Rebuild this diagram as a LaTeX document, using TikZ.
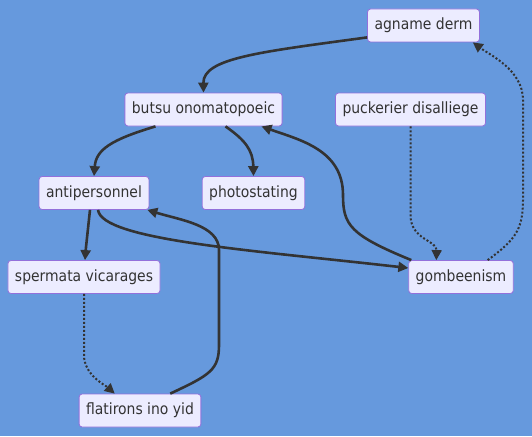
\documentclass[tikz,border=0pt]{standalone}
\usepackage{fontspec}
\setmainfont{DejaVu Sans Condensed}
\usetikzlibrary{arrows.meta, calc}
\definecolor{bgblue}{HTML}{6699DD}
\definecolor{boxfill}{HTML}{ECECFF}
\definecolor{boxline}{HTML}{9370DB}
\definecolor{inkdark}{HTML}{333333}

\tikzset{
  termbox/.style={draw=boxline, fill=boxfill, rounded corners=3pt, line width=0.8pt,
    minimum height=33pt, inner xsep=7pt, text=inkdark, font=\fontsize{15.5}{18}\selectfont},
  link/.style={draw=inkdark, line width=2.6pt, -{Triangle[length=10pt,width=10pt]}},
  dotlink/.style={draw=inkdark, line width=2pt, dash pattern=on 2pt off 2pt,
    -{Triangle[length=10pt,width=10pt]}}
}

\begin{document}
\begin{tikzpicture}[x=1pt, y=-1pt]
    \fill[bgblue] (0,0) rectangle (532,436);

    \node[termbox] (agname) at (423.5,25.5) {agname derm};
    \node[termbox] (butsu) at (203.5,109.5) {butsu onomatopoeic};
    \node[termbox] (pucker) at (410.5,109.5) {puckerier disalliege};
    \node[termbox] (anti) at (94,193) {antipersonnel};
    \node[termbox] (photo) at (253.5,193) {photostating};
    \node[termbox] (sperm) at (84,277) {spermata vicarages};
    \node[termbox] (gomb) at (461,277) {gombeenism};
    \node[termbox] (flat) at (140,410.5) {flatirons ino yid};

    % solid links
    \draw[link] ($(agname.south west)+(0,-5)$) .. controls (260,52) and (203,58) .. (butsu.north);
    \draw[link] ($(butsu.south west)+(31,0)$) .. controls (110,140) and (96,150) .. (anti.north);
    \draw[link] ($(butsu.south west)+(101,0)$) .. controls (245,140) and (253,150) .. (photo.north);
    \draw[link] ($(anti.south)+(-4,0)$) .. controls (87,230) .. ($(sperm.north)+(1,0)$);
    \draw[link] ($(anti.south)+(4,0)$) .. controls (102,240) and (250,250) .. ($(gomb.west)+(0,-9)$);
    \draw[link] ($(gomb.north west)+(3,0)$) .. controls (350,235) and (343,225) .. (343,195)
        .. controls (343,150) and (300,140) .. ($(butsu.south east)+(-21,0)$);
    \draw[link] ($(flat.north east)+(-31,0)$) .. controls (210,375) and (219,370) .. (219,345)
        -- (219,250) .. controls (219,225) and (180,220) .. ($(anti.south east)+(-2,0)$);

    % dotted links
    \draw[dotlink] (pucker.south) -- (410.5,215) .. controls (410.5,240) and (437,240) .. ($(gomb.north west)+(28,0)$);
    \draw[dotlink] ($(gomb.north east)+(-26,0)$) .. controls (515,240) and (523,230) .. (523,200)
        -- (523,100) .. controls (523,70) and (490,55) .. ($(agname.south east)+(-7,0)$);
    \draw[dotlink] (sperm.south) -- (84,355) .. controls (84,375) and (105,385) .. ($(flat.north west)+(36,0)$);
\end{tikzpicture}
\end{document}
